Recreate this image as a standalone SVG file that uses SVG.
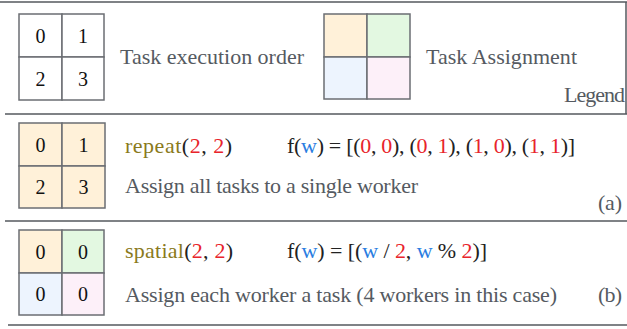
<svg xmlns="http://www.w3.org/2000/svg" width="627" height="329" viewBox="0 0 627 329">
<style>
.bg{fill:#ffffff}
.cell{stroke:#6b6e73;stroke-width:1.5}
.plain{fill:#ffffff}
.o{fill:#fff1d9}
.g{fill:#e3f8e1}
.b{fill:#edf4fe}
.p{fill:#fdf0f9}
.num{font-family:"Liberation Serif","Times New Roman",serif;font-size:20px;fill:#111111;text-anchor:middle}
.t{font-family:"Liberation Serif","Times New Roman",serif;font-size:22px;fill:#555a61}
.code{font-family:"Liberation Serif","Times New Roman",serif;font-size:22px;fill:#222222}
.kw{fill:#8a7a1c}
.r{fill:#e8242b}
.w{fill:#2a7de1}
.sep{stroke:#55595e;stroke-width:1.5;fill:none}
</style>
<rect class="bg" x="0" y="0" width="627" height="329"/>
<g id="separators">
<line class="sep" x1="0" y1="2" x2="627" y2="2"/>
<line class="sep" x1="626" y1="2" x2="626" y2="114"/>
<line class="sep" x1="5" y1="114" x2="627" y2="114"/>
<line class="sep" x1="5" y1="221" x2="627" y2="221"/>
<line class="sep" x1="8" y1="325" x2="627" y2="325"/>
</g>
<g id="legend-order">
<rect class="cell plain" x="19" y="14" width="43" height="43"/>
<rect class="cell plain" x="62" y="14" width="42" height="43"/>
<rect class="cell plain" x="19" y="57" width="43" height="43"/>
<rect class="cell plain" x="62" y="57" width="42" height="43"/>
<text class="num" x="40.5" y="42.5">0</text>
<text class="num" x="83" y="42.5">1</text>
<text class="num" x="40.5" y="85.5">2</text>
<text class="num" x="83" y="85.5">3</text>
<text class="t" x="120" y="64" textLength="184" lengthAdjust="spacing">Task execution order</text>
</g>
<g id="legend-assignment">
<rect class="cell o" x="324" y="14" width="43" height="43"/>
<rect class="cell g" x="367" y="14" width="43" height="43"/>
<rect class="cell b" x="324" y="57" width="43" height="42"/>
<rect class="cell p" x="367" y="57" width="43" height="42"/>
<text class="t" x="426" y="64" textLength="151" lengthAdjust="spacing">Task Assignment</text>
</g>
<g id="legend-label">
<text class="t" x="564" y="102" textLength="61" lengthAdjust="spacing">Legend</text>
</g>
<g id="row-a">
<rect class="cell o" x="19" y="123" width="43" height="43"/>
<rect class="cell o" x="62" y="123" width="43" height="43"/>
<rect class="cell o" x="19" y="166" width="43" height="42"/>
<rect class="cell o" x="62" y="166" width="43" height="42"/>
<text class="num" x="40.5" y="151.5">0</text>
<text class="num" x="83.5" y="151.5">1</text>
<text class="num" x="40.5" y="194">2</text>
<text class="num" x="83.5" y="194">3</text>
<text class="code" x="125" y="153" textLength="107" lengthAdjust="spacing"><tspan class="kw">repeat</tspan>(<tspan class="r">2</tspan>, <tspan class="r">2</tspan>)</text>
<text class="code" x="287" y="153" textLength="288" lengthAdjust="spacing">f(<tspan class="w">w</tspan>) = [(<tspan class="r">0</tspan>, <tspan class="r">0</tspan>), (<tspan class="r">0</tspan>, <tspan class="r">1</tspan>), (<tspan class="r">1</tspan>, <tspan class="r">0</tspan>), (<tspan class="r">1</tspan>, <tspan class="r">1</tspan>)]</text>
<text class="t" x="125" y="193" textLength="293" lengthAdjust="spacing">Assign all tasks to a single worker</text>
<text class="t" x="598" y="210" textLength="24" lengthAdjust="spacing">(a)</text>
</g>
<g id="row-b">
<rect class="cell o" x="19" y="230" width="43" height="43"/>
<rect class="cell g" x="62" y="230" width="42" height="43"/>
<rect class="cell b" x="19" y="273" width="43" height="42"/>
<rect class="cell p" x="62" y="273" width="42" height="42"/>
<text class="num" x="40.5" y="258.5">0</text>
<text class="num" x="83" y="258.5">0</text>
<text class="num" x="40.5" y="301">0</text>
<text class="num" x="83" y="301">0</text>
<text class="code" x="125" y="258" textLength="108" lengthAdjust="spacing"><tspan class="kw">spatial</tspan>(<tspan class="r">2</tspan>, <tspan class="r">2</tspan>)</text>
<text class="code" x="287" y="258" textLength="200" lengthAdjust="spacing">f(<tspan class="w">w</tspan>) = [(<tspan class="w">w</tspan> / <tspan class="r">2</tspan>, <tspan class="w">w</tspan> % <tspan class="r">2</tspan>)]</text>
<text class="t" x="125" y="302" textLength="432" lengthAdjust="spacing">Assign each worker a task (4 workers in this case)</text>
<text class="t" x="598" y="302" textLength="24" lengthAdjust="spacing">(b)</text>
</g>
</svg>
